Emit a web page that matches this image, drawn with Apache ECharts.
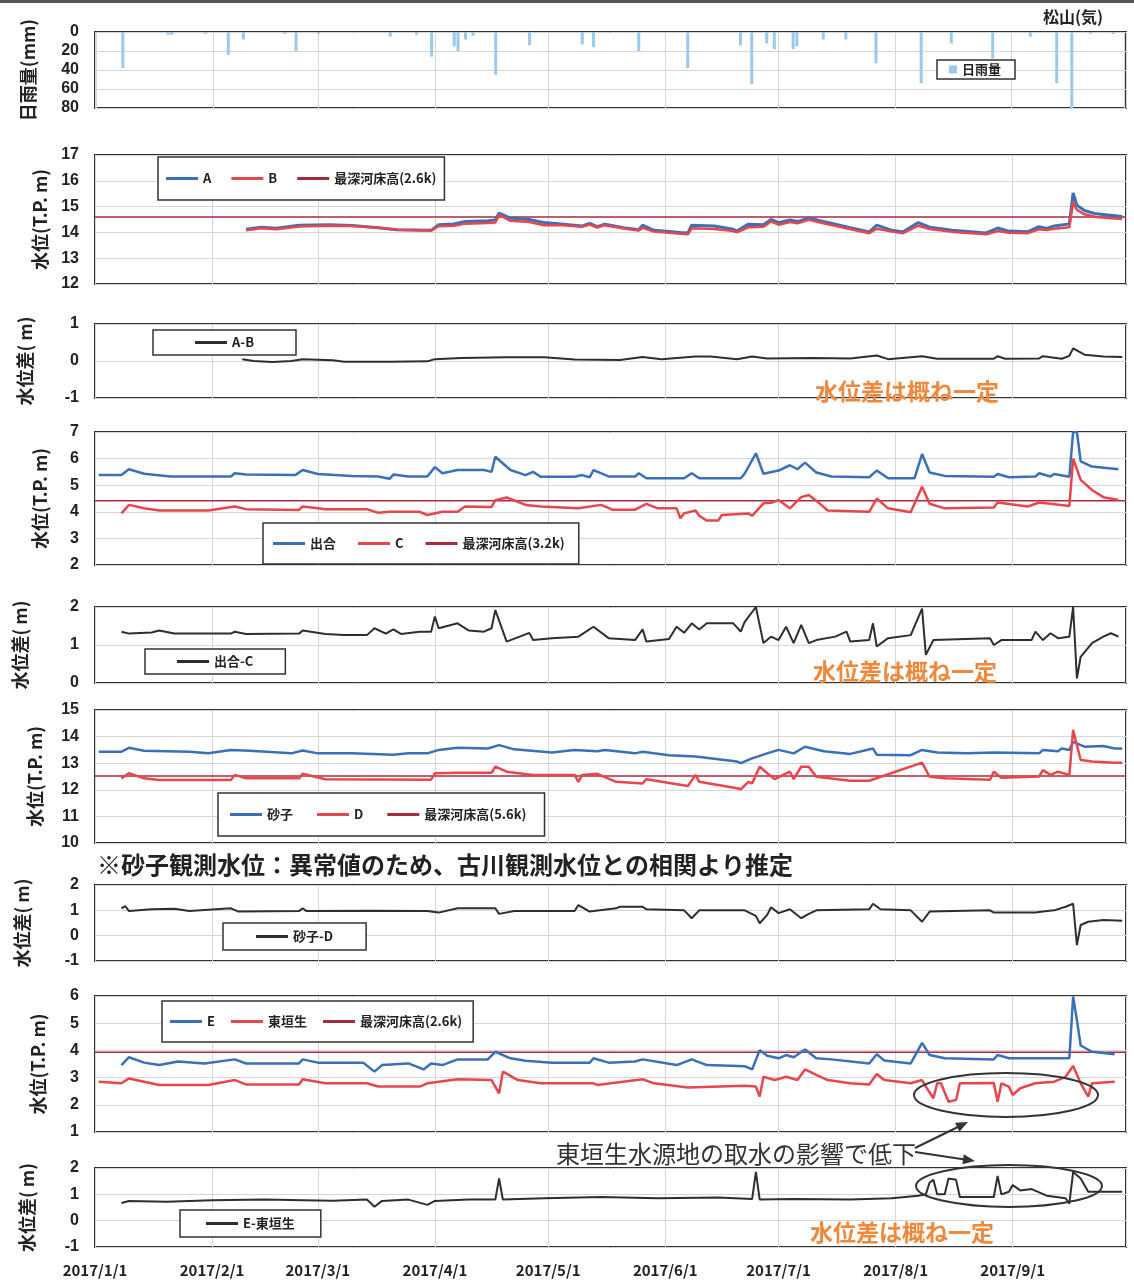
<!DOCTYPE html>
<html>
<head>
<meta charset="utf-8">
<title>水位観測</title>
<script src="https://cdn.jsdelivr.net/npm/echarts@6.0.0/dist/echarts.min.js"></script>
<style>
  html, body { margin: 0; padding: 0; background: #fff; }
  #chart { width: 1134px; height: 1281px; }
</style>
</head>
<body>
<div id="chart"></div>
<script>
// 日雨量 (松山)
const rain = [
  ['2017-01-08', 38], ['2017-01-20', 3], ['2017-01-21', 3], ['2017-01-30', 2],
  ['2017-02-05', 24], ['2017-02-09', 8], ['2017-02-20', 2], ['2017-02-23', 20],
  ['2017-03-01', 2], ['2017-03-20', 5], ['2017-03-27', 3], ['2017-03-31', 26],
  ['2017-04-06', 15], ['2017-04-07', 20], ['2017-04-09', 8], ['2017-04-11', 4],
  ['2017-04-17', 45], ['2017-04-26', 14], ['2017-05-10', 13], ['2017-05-13', 16],
  ['2017-05-25', 20], ['2017-06-07', 38], ['2017-06-21', 14], ['2017-06-24', 55],
  ['2017-06-28', 12], ['2017-06-30', 18], ['2017-07-05', 18], ['2017-07-06', 15],
  ['2017-07-13', 8], ['2017-07-19', 8], ['2017-07-27', 33], ['2017-08-08', 54],
  ['2017-08-16', 12], ['2017-08-27', 28], ['2017-09-06', 5], ['2017-09-13', 54],
  ['2017-09-17', 80], ['2017-09-22', 2], ['2017-09-28', 2]
];

// 最深河床高
const bed26 = 14.6;
const bed32 = 4.42;
const bed56 = 12.52;
const bed26e = 3.93;

const levelA = [
  ['2017-02-10',14.12],['2017-02-14',14.20],['2017-02-18',14.16],['2017-02-24',14.28],['2017-03-04',14.30],
  ['2017-03-10',14.27],['2017-03-17',14.18],['2017-03-22',14.10],['2017-03-31',14.08],['2017-04-02',14.30],
  ['2017-04-06',14.33],['2017-04-09',14.42],['2017-04-15',14.45],['2017-04-17',14.48],['2017-04-18',14.75],
  ['2017-04-21',14.55],['2017-04-26',14.50],['2017-04-30',14.38],['2017-05-05',14.32],['2017-05-10',14.25],
  ['2017-05-12',14.35],['2017-05-14',14.22],['2017-05-16',14.32],['2017-05-21',14.18],['2017-05-25',14.10],
  ['2017-05-26',14.28],['2017-05-29',14.08],['2017-06-05',14.00],['2017-06-07',13.98],['2017-06-08',14.28],
  ['2017-06-14',14.25],['2017-06-19',14.12],['2017-06-20',14.05],['2017-06-23',14.32],['2017-06-27',14.30],
  ['2017-06-29',14.50],['2017-07-01',14.38],['2017-07-04',14.48],['2017-07-06',14.42],['2017-07-09',14.56],
  ['2017-07-12',14.45],['2017-07-18',14.25],['2017-07-25',14.02],['2017-07-27',14.28],['2017-07-31',14.08],
  ['2017-08-03',14.02],['2017-08-07',14.38],['2017-08-10',14.20],['2017-08-16',14.08],['2017-08-25',13.98],
  ['2017-08-28',14.17],['2017-08-31',14.05],['2017-09-05',14.03],['2017-09-08',14.22],['2017-09-10',14.15],
  ['2017-09-12',14.25],['2017-09-16',14.33],['2017-09-17',15.53],['2017-09-18',15.05],['2017-09-20',14.85],
  ['2017-09-23',14.72],['2017-09-30',14.62]
];
const levelB = [
  ['2017-02-10',14.08],['2017-02-14',14.16],['2017-02-18',14.12],['2017-02-24',14.23],['2017-03-04',14.26],
  ['2017-03-10',14.25],['2017-03-17',14.18],['2017-03-22',14.10],['2017-03-31',14.07],['2017-04-02',14.24],
  ['2017-04-06',14.26],['2017-04-09',14.34],['2017-04-15',14.36],['2017-04-17',14.38],['2017-04-18',14.68],
  ['2017-04-21',14.45],['2017-04-26',14.40],['2017-04-30',14.28],['2017-05-05',14.28],['2017-05-10',14.22],
  ['2017-05-12',14.30],['2017-05-14',14.19],['2017-05-16',14.28],['2017-05-21',14.15],['2017-05-25',14.07],
  ['2017-05-26',14.18],['2017-05-29',14.03],['2017-06-05',13.95],['2017-06-07',13.93],['2017-06-08',14.16],
  ['2017-06-14',14.13],['2017-06-19',14.05],['2017-06-20',14.00],['2017-06-23',14.20],['2017-06-27',14.22],
  ['2017-06-29',14.42],['2017-07-01',14.30],['2017-07-04',14.40],['2017-07-06',14.35],['2017-07-09',14.49],
  ['2017-07-12',14.38],['2017-07-18',14.19],['2017-07-25',13.97],['2017-07-27',14.14],['2017-07-31',14.03],
  ['2017-08-03',13.97],['2017-08-07',14.26],['2017-08-10',14.13],['2017-08-16',14.02],['2017-08-25',13.93],
  ['2017-08-28',14.05],['2017-08-31',13.99],['2017-09-05',13.97],['2017-09-08',14.12],['2017-09-10',14.09],
  ['2017-09-12',14.14],['2017-09-16',14.20],['2017-09-17',15.19],['2017-09-18',14.88],['2017-09-20',14.70],
  ['2017-09-23',14.60],['2017-09-30',14.52]
];
const diffAB = [
  ['2017-02-09',0.05],['2017-02-12',0.00],['2017-02-17',-0.03],['2017-02-22',0.00],['2017-02-25',0.05],
  ['2017-03-05',0.02],['2017-03-08',-0.02],['2017-03-20',-0.02],['2017-03-30',-0.01],['2017-04-01',0.05],
  ['2017-04-08',0.08],['2017-04-20',0.10],['2017-04-30',0.10],['2017-05-08',0.04],['2017-05-20',0.03],
  ['2017-05-26',0.11],['2017-05-31',0.05],['2017-06-09',0.12],['2017-06-13',0.12],['2017-06-20',0.05],
  ['2017-06-24',0.12],['2017-06-28',0.07],['2017-07-10',0.08],['2017-07-20',0.07],['2017-07-27',0.15],
  ['2017-07-30',0.05],['2017-08-08',0.13],['2017-08-12',0.06],['2017-08-27',0.06],['2017-08-28',0.13],
  ['2017-08-30',0.06],['2017-09-08',0.07],['2017-09-09',0.13],['2017-09-14',0.06],['2017-09-16',0.14],
  ['2017-09-17',0.34],['2017-09-20',0.17],['2017-09-25',0.12],['2017-09-30',0.11]
];

const levelDeai = [
  ['2017-01-02',5.38],['2017-01-08',5.38],['2017-01-10',5.60],['2017-01-14',5.43],['2017-01-21',5.33],
  ['2017-02-06',5.33],['2017-02-07',5.45],['2017-02-10',5.40],['2017-02-23',5.38],['2017-02-25',5.57],
  ['2017-03-01',5.42],['2017-03-10',5.35],['2017-03-17',5.33],['2017-03-20',5.24],['2017-03-21',5.40],
  ['2017-03-25',5.33],['2017-03-30',5.33],['2017-04-01',5.68],['2017-04-03',5.45],['2017-04-07',5.57],
  ['2017-04-14',5.57],['2017-04-16',5.50],['2017-04-17',6.07],['2017-04-21',5.57],['2017-04-25',5.38],
  ['2017-04-27',5.50],['2017-04-29',5.32],['2017-05-08',5.32],['2017-05-10',5.38],['2017-05-12',5.30],
  ['2017-05-13',5.57],['2017-05-17',5.33],['2017-05-24',5.33],['2017-05-25',5.45],['2017-05-27',5.26],
  ['2017-06-06',5.26],['2017-06-08',5.45],['2017-06-10',5.26],['2017-06-21',5.26],['2017-06-22',5.43],
  ['2017-06-25',6.20],['2017-06-27',5.43],['2017-07-01',5.55],['2017-07-04',5.75],['2017-07-06',5.60],
  ['2017-07-08',5.85],['2017-07-11',5.48],['2017-07-15',5.33],['2017-07-25',5.30],['2017-07-27',5.55],
  ['2017-07-30',5.26],['2017-08-06',5.26],['2017-08-08',6.17],['2017-08-10',5.48],['2017-08-14',5.35],
  ['2017-08-27',5.32],['2017-08-28',5.42],['2017-08-31',5.30],['2017-09-07',5.33],['2017-09-08',5.45],
  ['2017-09-11',5.33],['2017-09-12',5.42],['2017-09-16',5.32],['2017-09-17',7.00],['2017-09-18',7.00],
  ['2017-09-19',5.90],['2017-09-22',5.70],['2017-09-29',5.60]
];
const levelC = [
  ['2017-01-08',3.94],['2017-01-10',4.26],['2017-01-14',4.13],['2017-01-18',4.05],['2017-01-31',4.05],
  ['2017-02-07',4.20],['2017-02-10',4.10],['2017-02-24',4.07],['2017-02-25',4.20],['2017-03-03',4.10],
  ['2017-03-14',4.10],['2017-03-17',3.96],['2017-03-20',4.00],['2017-03-28',4.00],['2017-03-30',3.88],
  ['2017-04-03',4.00],['2017-04-07',4.00],['2017-04-09',4.20],['2017-04-16',4.18],['2017-04-17',4.44],
  ['2017-04-20',4.54],['2017-04-25',4.26],['2017-04-29',4.20],['2017-05-09',4.13],['2017-05-15',4.26],
  ['2017-05-18',4.08],['2017-05-24',4.08],['2017-05-27',4.30],['2017-05-30',4.13],['2017-06-04',4.13],
  ['2017-06-05',3.76],['2017-06-06',3.94],['2017-06-09',4.05],['2017-06-10',3.85],['2017-06-12',3.67],
  ['2017-06-15',3.67],['2017-06-16',3.88],['2017-06-23',3.94],['2017-06-24',3.85],['2017-06-27',4.32],
  ['2017-06-29',4.34],['2017-07-01',4.44],['2017-07-04',4.13],['2017-07-07',4.55],['2017-07-09',4.63],
  ['2017-07-12',4.30],['2017-07-14',4.05],['2017-07-25',4.00],['2017-07-27',4.50],['2017-07-30',4.13],
  ['2017-08-05',3.98],['2017-08-08',4.94],['2017-08-10',4.30],['2017-08-14',4.13],['2017-08-27',4.16],
  ['2017-08-28',4.35],['2017-09-05',4.20],['2017-09-08',4.35],['2017-09-16',4.22],['2017-09-17',6.00],
  ['2017-09-19',5.20],['2017-09-22',4.82],['2017-09-25',4.55],['2017-09-29',4.44]
];
const diffDeaiC = [
  ['2017-01-08',1.35],['2017-01-10',1.30],['2017-01-16',1.33],['2017-01-18',1.38],['2017-01-22',1.30],
  ['2017-02-06',1.30],['2017-02-07',1.35],['2017-02-10',1.29],['2017-02-24',1.30],['2017-02-25',1.38],
  ['2017-03-03',1.29],['2017-03-08',1.26],['2017-03-14',1.26],['2017-03-16',1.44],['2017-03-19',1.30],
  ['2017-03-21',1.41],['2017-03-23',1.29],['2017-03-28',1.35],['2017-03-31',1.35],['2017-04-01',1.75],
  ['2017-04-02',1.44],['2017-04-07',1.57],['2017-04-10',1.38],['2017-04-14',1.35],['2017-04-16',1.44],
  ['2017-04-17',1.92],['2017-04-20',1.09],['2017-04-26',1.32],['2017-04-27',1.13],['2017-05-02',1.18],
  ['2017-05-09',1.22],['2017-05-13',1.48],['2017-05-17',1.18],['2017-05-24',1.13],['2017-05-26',1.41],
  ['2017-05-27',1.09],['2017-06-02',1.16],['2017-06-04',1.48],['2017-06-06',1.32],['2017-06-08',1.57],
  ['2017-06-10',1.41],['2017-06-12',1.57],['2017-06-19',1.57],['2017-06-21',1.35],['2017-06-22',1.60],
  ['2017-06-25',2.00],['2017-06-27',1.05],['2017-06-29',1.22],['2017-07-01',1.13],['2017-07-03',1.48],
  ['2017-07-05',1.05],['2017-07-07',1.53],['2017-07-09',1.05],['2017-07-11',1.13],['2017-07-16',1.22],
  ['2017-07-19',1.35],['2017-07-20',1.09],['2017-07-25',1.13],['2017-07-26',1.57],['2017-07-27',0.96],
  ['2017-07-30',1.18],['2017-08-05',1.26],['2017-08-08',1.96],['2017-08-09',0.74],['2017-08-11',1.13],
  ['2017-08-26',1.18],['2017-08-27',1.00],['2017-08-29',1.13],['2017-09-06',1.13],['2017-09-07',1.35],
  ['2017-09-09',1.13],['2017-09-11',1.31],['2017-09-13',1.18],['2017-09-16',1.22],['2017-09-17',2.00],
  ['2017-09-18',0.12],['2017-09-19',0.69],['2017-09-22',1.05],['2017-09-25',1.22],['2017-09-27',1.31],
  ['2017-09-29',1.22]
];

const levelSunago = [
  ['2017-01-02',13.43],['2017-01-08',13.43],['2017-01-10',13.58],['2017-01-14',13.47],['2017-01-26',13.43],
  ['2017-01-31',13.37],['2017-02-06',13.50],['2017-02-11',13.47],['2017-02-22',13.37],['2017-02-25',13.48],
  ['2017-03-01',13.37],['2017-03-10',13.37],['2017-03-21',13.32],['2017-03-25',13.37],['2017-03-30',13.37],
  ['2017-04-02',13.50],['2017-04-07',13.58],['2017-04-15',13.55],['2017-04-18',13.68],['2017-04-22',13.52],
  ['2017-05-02',13.40],['2017-05-08',13.50],['2017-05-14',13.45],['2017-05-16',13.50],['2017-05-24',13.37],
  ['2017-05-26',13.43],['2017-06-02',13.30],['2017-06-09',13.25],['2017-06-20',13.06],['2017-06-21',13.00],
  ['2017-06-24',13.18],['2017-06-28',13.37],['2017-07-01',13.50],['2017-07-05',13.37],['2017-07-08',13.62],
  ['2017-07-13',13.45],['2017-07-20',13.35],['2017-07-26',13.55],['2017-07-27',13.32],['2017-08-05',13.30],
  ['2017-08-08',13.50],['2017-08-12',13.40],['2017-08-20',13.37],['2017-08-27',13.40],['2017-09-08',13.37],
  ['2017-09-09',13.50],['2017-09-13',13.45],['2017-09-14',13.55],['2017-09-16',13.50],['2017-09-17',13.80],
  ['2017-09-20',13.62],['2017-09-25',13.65],['2017-09-28',13.55],['2017-09-30',13.55]
];
const levelD = [
  ['2017-01-08',12.43],['2017-01-10',12.62],['2017-01-14',12.43],['2017-01-18',12.37],['2017-02-06',12.37],
  ['2017-02-07',12.56],['2017-02-10',12.43],['2017-02-24',12.43],['2017-02-25',12.60],['2017-03-03',12.40],
  ['2017-03-31',12.38],['2017-04-01',12.62],['2017-04-07',12.64],['2017-04-16',12.64],['2017-04-17',12.87],
  ['2017-04-20',12.68],['2017-04-27',12.56],['2017-05-08',12.56],['2017-05-09',12.30],['2017-05-10',12.56],
  ['2017-05-14',12.60],['2017-05-19',12.30],['2017-05-26',12.24],['2017-05-27',12.40],['2017-06-07',12.14],
  ['2017-06-09',12.56],['2017-06-10',12.30],['2017-06-20',12.06],['2017-06-21',12.02],['2017-06-23',12.30],
  ['2017-06-24',12.24],['2017-06-26',12.87],['2017-06-28',12.62],['2017-06-30',12.40],['2017-07-04',12.68],
  ['2017-07-05',12.40],['2017-07-07',12.87],['2017-07-09',12.87],['2017-07-11',12.49],['2017-07-20',12.34],
  ['2017-07-25',12.34],['2017-08-08',13.02],['2017-08-10',12.49],['2017-08-14',12.43],['2017-08-26',12.38],
  ['2017-08-27',12.68],['2017-08-29',12.45],['2017-09-08',12.50],['2017-09-09',12.74],['2017-09-11',12.56],
  ['2017-09-13',12.68],['2017-09-16',12.56],['2017-09-17',14.25],['2017-09-19',13.12],['2017-09-22',13.06],
  ['2017-09-28',13.02],['2017-09-30',13.02]
];
const diffSunagoD = [
  ['2017-01-08',1.08],['2017-01-09',1.17],['2017-01-10',0.97],['2017-01-16',1.04],['2017-01-22',1.06],
  ['2017-01-26',0.97],['2017-02-06',1.08],['2017-02-08',0.95],['2017-02-24',0.97],['2017-02-25',1.08],
  ['2017-02-26',0.97],['2017-03-15',0.98],['2017-03-30',0.97],['2017-04-02',0.91],['2017-04-07',1.08],
  ['2017-04-17',1.08],['2017-04-18',0.86],['2017-04-22',0.97],['2017-05-08',0.97],['2017-05-09',1.21],
  ['2017-05-12',0.95],['2017-05-19',1.08],['2017-05-20',1.14],['2017-05-26',1.14],['2017-05-27',1.04],
  ['2017-06-06',1.00],['2017-06-08',0.69],['2017-06-10',1.00],['2017-06-22',1.00],['2017-06-25',0.78],
  ['2017-06-26',0.49],['2017-06-28',0.82],['2017-06-29',1.12],['2017-07-01',0.89],['2017-07-04',1.04],
  ['2017-07-07',0.69],['2017-07-09',0.86],['2017-07-11',1.00],['2017-07-25',1.04],['2017-07-26',1.26],
  ['2017-07-28',1.04],['2017-08-05',1.00],['2017-08-08',0.55],['2017-08-10',0.95],['2017-08-26',1.00],
  ['2017-08-27',0.91],['2017-09-07',0.91],['2017-09-09',0.95],['2017-09-12',1.00],['2017-09-15',1.14],
  ['2017-09-17',1.26],['2017-09-18',-0.37],['2017-09-19',0.42],['2017-09-21',0.55],['2017-09-25',0.62],
  ['2017-09-30',0.59]
];

const levelE = [
  ['2017-01-08',3.46],['2017-01-10',3.75],['2017-01-14',3.55],['2017-01-18',3.46],['2017-01-23',3.59],
  ['2017-01-30',3.52],['2017-02-07',3.67],['2017-02-10',3.52],['2017-02-24',3.52],['2017-02-25',3.67],
  ['2017-03-01',3.55],['2017-03-13',3.55],['2017-03-16',3.22],['2017-03-18',3.46],['2017-03-25',3.52],
  ['2017-03-29',3.30],['2017-03-31',3.52],['2017-04-03',3.46],['2017-04-07',3.67],['2017-04-15',3.67],
  ['2017-04-17',3.95],['2017-04-21',3.71],['2017-04-25',3.62],['2017-05-02',3.55],['2017-05-12',3.55],
  ['2017-05-13',3.71],['2017-05-17',3.55],['2017-05-24',3.59],['2017-05-26',3.67],['2017-06-04',3.46],
  ['2017-06-08',3.67],['2017-06-12',3.46],['2017-06-22',3.42],['2017-06-24',3.30],['2017-06-26',4.01],
  ['2017-06-28',3.80],['2017-07-01',3.71],['2017-07-03',3.83],['2017-07-05',3.75],['2017-07-08',4.03],
  ['2017-07-11',3.71],['2017-07-15',3.67],['2017-07-25',3.52],['2017-07-27',3.86],['2017-07-29',3.63],
  ['2017-08-05',3.52],['2017-08-08',4.28],['2017-08-10',3.83],['2017-08-14',3.71],['2017-08-27',3.67],
  ['2017-08-28',3.83],['2017-08-31',3.71],['2017-09-16',3.71],['2017-09-17',5.98],['2017-09-18',5.12],
  ['2017-09-19',4.18],['2017-09-22',3.95],['2017-09-28',3.86]
];
const levelHigashi = [
  ['2017-01-02',2.85],['2017-01-08',2.79],['2017-01-10',2.97],['2017-01-14',2.85],['2017-01-18',2.73],
  ['2017-01-31',2.73],['2017-02-07',2.91],['2017-02-10',2.75],['2017-02-24',2.75],['2017-02-25',2.94],
  ['2017-03-03',2.79],['2017-03-14',2.79],['2017-03-17',2.67],['2017-03-28',2.67],['2017-03-30',2.79],
  ['2017-04-07',2.94],['2017-04-16',2.91],['2017-04-18',2.42],['2017-04-19',3.22],['2017-04-23',2.91],
  ['2017-04-29',2.79],['2017-05-13',2.79],['2017-05-14',2.73],['2017-05-26',2.94],['2017-05-29',2.79],
  ['2017-06-07',2.64],['2017-06-22',2.70],['2017-06-25',2.67],['2017-06-26',2.30],['2017-06-27',3.03],
  ['2017-06-30',2.91],['2017-07-03',3.03],['2017-07-06',2.91],['2017-07-08',3.30],['2017-07-11',3.10],
  ['2017-07-14',2.91],['2017-07-20',2.79],['2017-07-25',2.75],['2017-07-27',3.13],['2017-07-29',2.91],
  ['2017-08-05',2.79],['2017-08-08',2.91],['2017-08-09',2.67],['2017-08-11',2.24],['2017-08-12',2.79],
  ['2017-08-13',2.79],['2017-08-15',2.11],['2017-08-17',2.18],['2017-08-18',2.79],['2017-08-27',2.80],
  ['2017-08-28',2.11],['2017-08-29',2.79],['2017-08-31',2.67],['2017-09-01',2.36],['2017-09-03',2.61],
  ['2017-09-07',2.79],['2017-09-12',2.85],['2017-09-15',3.03],['2017-09-17',3.43],['2017-09-19',2.79],
  ['2017-09-21',2.30],['2017-09-22',2.79],['2017-09-28',2.85]
];
const diffEHigashi = [
  ['2017-01-08',0.67],['2017-01-10',0.75],['2017-01-20',0.72],['2017-02-01',0.78],['2017-02-15',0.80],
  ['2017-02-25',0.78],['2017-03-05',0.76],['2017-03-14',0.80],['2017-03-16',0.53],['2017-03-18',0.75],
  ['2017-03-25',0.80],['2017-03-30',0.60],['2017-04-01',0.75],['2017-04-10',0.80],['2017-04-17',0.80],
  ['2017-04-18',1.60],['2017-04-19',0.80],['2017-04-30',0.85],['2017-05-15',0.90],['2017-05-30',0.85],
  ['2017-06-15',0.88],['2017-06-24',0.82],['2017-06-25',1.85],['2017-06-26',0.80],['2017-07-05',0.82],
  ['2017-07-20',0.80],['2017-07-31',0.85],['2017-08-07',0.95],['2017-08-09',1.00],['2017-08-10',1.45],
  ['2017-08-11',1.55],['2017-08-12',1.00],['2017-08-14',1.00],['2017-08-15',1.60],['2017-08-17',1.55],
  ['2017-08-18',0.90],['2017-08-27',0.90],['2017-08-28',1.70],['2017-08-29',1.00],['2017-08-31',1.10],
  ['2017-09-01',1.35],['2017-09-03',1.15],['2017-09-06',1.20],['2017-09-10',0.95],['2017-09-15',0.85],
  ['2017-09-16',0.65],['2017-09-17',1.85],['2017-09-19',1.60],['2017-09-21',1.10],['2017-09-30',1.10]
];

const xMin = '2017-01-01';
const xMax = '2017-10-01';

const BLUE = '#3a70b8';
const RED = '#e8454c';
const BED = '#a62b3e';
const DIFF = '#2e2e2e';
const RAIN = '#9ac9ea';
const FONT = '"Noto Sans CJK JP", "Liberation Sans", sans-serif';

// one entry per stacked plot
const panels = [
  { top: 32,   height: 76,  min: 0,  max: 80, interval: 20, inverse: true, name: '日雨量(mm)',   gap: 58 },
  { top: 155,  height: 129, min: 12, max: 17, interval: 1,  name: '水位(T.P. m)', gap: 46 },
  { top: 324,  height: 74,  min: -1, max: 1,  interval: 1,  name: '水位差( m)',   gap: 61 },
  { top: 432,  height: 133, min: 2,  max: 7,  interval: 1,  name: '水位(T.P. m)', gap: 46 },
  { top: 607,  height: 76,  min: 0,  max: 2,  interval: 1,  name: '水位差( m)',   gap: 66 },
  { top: 710,  height: 133, min: 10, max: 15, interval: 1,  name: '水位(T.P. m)', gap: 51 },
  { top: 885,  height: 76,  min: -1, max: 2,  interval: 1,  name: '水位差( m)',   gap: 64 },
  { top: 996,  height: 136, min: 1,  max: 6,  interval: 1,  name: '水位(T.P. m)', gap: 48 },
  { top: 1168, height: 79,  min: -1, max: 2,  interval: 1,  name: '水位差( m)',   gap: 59 }
];

const last = panels.length - 1;

const grids = panels.map(p => ({
  left: 95, right: 8, top: p.top, height: p.height,
  show: true, borderColor: '#333', borderWidth: 2, backgroundColor: '#fff'
}));

const xAxes = panels.map((p, i) => ({
  type: 'time', gridIndex: i, min: xMin, max: xMax,
  minInterval: 28 * 86400000, maxInterval: 31 * 86400000,
  axisLine: { show: false }, axisTick: { show: false },
  splitLine: { show: true, lineStyle: { color: '#d6d6d6', width: 1 } },
  axisLabel: {
    show: i === last, margin: 16, fontSize: 15, fontWeight: 'bold', color: '#222',
    fontFamily: FONT, showMaxLabel: false,
    formatter: v => {
      const d = new Date(v);
      return d.getFullYear() + '/' + (d.getMonth() + 1) + '/' + d.getDate();
    }
  }
}));

const yAxes = panels.map((p, i) => ({
  type: 'value', gridIndex: i, min: p.min, max: p.max, interval: p.interval,
  inverse: !!p.inverse,
  name: p.name, nameLocation: 'middle', nameRotate: 90, nameGap: p.gap,
  nameTextStyle: { fontSize: 18, fontWeight: 'bold', color: '#222', fontFamily: FONT },
  axisLine: { show: false }, axisTick: { show: false },
  splitLine: { show: true, lineStyle: { color: '#d6d6d6', width: 1 } },
  axisLabel: { fontSize: 16, fontWeight: 'bold', color: '#222', margin: 16, fontFamily: '"Liberation Sans", sans-serif' }
}));

function line(name, data, idx, color, width) {
  return {
    name: name, type: 'line', data: data,
    xAxisIndex: idx, yAxisIndex: idx,
    showSymbol: false, symbol: 'none',
    lineStyle: { color: color, width: width }, itemStyle: { color: color },
    z: 3
  };
}
function bedLine(name, value, idx) {
  return line(name, [[xMin, value], [xMax, value]], idx, BED, 1.5);
}

const series = [
  {
    name: '日雨量', type: 'bar', data: rain, xAxisIndex: 0, yAxisIndex: 0,
    barWidth: 3, itemStyle: { color: RAIN }
  },
  bedLine('最深河床高(2.6k)', bed26, 1),
  line('A', levelA, 1, BLUE, 3),
  line('B', levelB, 1, RED, 2.5),
  line('A-B', diffAB, 2, DIFF, 2),
  bedLine('最深河床高(3.2k)', bed32, 3),
  line('出合', levelDeai, 3, BLUE, 2.5),
  line('C', levelC, 3, RED, 2.5),
  line('出合-C', diffDeaiC, 4, DIFF, 2),
  bedLine('最深河床高(5.6k)', bed56, 5),
  line('砂子', levelSunago, 5, BLUE, 2.5),
  line('D', levelD, 5, RED, 2.5),
  line('砂子-D', diffSunagoD, 6, DIFF, 2),
  bedLine('最深河床高(2.6k) ', bed26e, 7),
  line('E', levelE, 7, BLUE, 2.5),
  line('東垣生', levelHigashi, 7, RED, 2.5),
  line('E-東垣生', diffEHigashi, 8, DIFF, 2)
];

function legend(names, left, top, padding, gap) {
  return {
    data: names, left: left, top: top, padding: padding, itemGap: gap || 20,
    orient: 'horizontal', icon: 'rect', itemWidth: 32, itemHeight: 3,
    borderColor: '#333', borderWidth: 1.5, backgroundColor: '#fff',
    textStyle: { fontSize: 13, fontWeight: 'bold', color: '#222', fontFamily: FONT },
    selectedMode: false
  };
}

const legends = [
  Object.assign(legend(['日雨量'], 937, 60, [3, 14, 3, 12]), { itemWidth: 8, itemHeight: 8 }),
  legend(['A', 'B', '最深河床高(2.6k)'], 158, 157, [15, 8, 15, 8]),
  legend(['A-B'], 153, 330, [6, 42, 6, 42]),
  legend(['出合', 'C', '最深河床高(3.2k)'], 263, 523, [14, 14, 14, 10], 22),
  legend(['出合-C'], 145, 649, [6, 32, 6, 32]),
  legend(['砂子', 'D', '最深河床高(5.6k)'], 218, 793, [15, 18, 15, 12], 24),
  legend(['砂子-D'], 223, 923, [7, 33, 7, 33]),
  legend(['E', '東垣生', { name: '最深河床高(2.6k) ' }], 162, 1001, [14, 8, 14, 8], 16),
  legend(['E-東垣生'], 180, 1210, [7, 26, 7, 26])
];

const noteColor = '#f0883c';
function note(x, y, text, color, size, weight) {
  return {
    type: 'text', left: x, top: y, z: 50,
    style: { text: text, fill: color, fontSize: size, fontWeight: weight, fontFamily: FONT }
  };
}

const graphics = [
  { type: 'rect', left: 0, top: 0, z: 50, shape: { width: 1134, height: 3 }, style: { fill: '#555' } },
  note(97, 853, '※砂子観測水位：異常値のため、古川観測水位との相関より推定', '#222', 24, 'bold'),
  note(815, 380, '水位差は概ね一定', noteColor, 23, 'bold'),
  note(813, 660, '水位差は概ね一定', noteColor, 23, 'bold'),
  note(810, 1221, '水位差は概ね一定', noteColor, 23, 'bold'),
  note(556, 1142, '東垣生水源地の取水の影響で低下', '#333', 24, 'normal'),
  { type: 'ellipse', z: 50, shape: { cx: 1006, cy: 1095, rx: 92, ry: 22 },
    style: { fill: 'none', stroke: '#333', lineWidth: 2 } },
  { type: 'ellipse', z: 50, shape: { cx: 1009, cy: 1186, rx: 93, ry: 21 },
    style: { fill: 'none', stroke: '#333', lineWidth: 2 } },
  { type: 'line', z: 50, shape: { x1: 915, y1: 1148, x2: 962, y2: 1125 },
    style: { stroke: '#333', lineWidth: 2 } },
  { type: 'polygon', z: 50, shape: { points: [[968, 1122], [959.4, 1131.8], [955, 1122.8]] },
    style: { fill: '#333' } },
  { type: 'line', z: 50, shape: { x1: 915, y1: 1152, x2: 968, y2: 1160 },
    style: { stroke: '#333', lineWidth: 2 } },
  { type: 'polygon', z: 50, shape: { points: [[975, 1161], [962.4, 1164.2], [963.8, 1154.3]] },
    style: { fill: '#333' } }
];

const chart = echarts.init(document.getElementById('chart'));
chart.setOption({
  animation: false,
  backgroundColor: '#fff',
  title: {
    text: '松山(気)', right: 26, top: 4,
    textStyle: { fontSize: 16, fontWeight: 'bold', color: '#222', fontFamily: FONT }
  },
  grid: grids,
  xAxis: xAxes,
  yAxis: yAxes,
  legend: legends,
  series: series,
  graphic: graphics
});
window.addEventListener('resize', () => chart.resize());
</script>
</body>
</html>
